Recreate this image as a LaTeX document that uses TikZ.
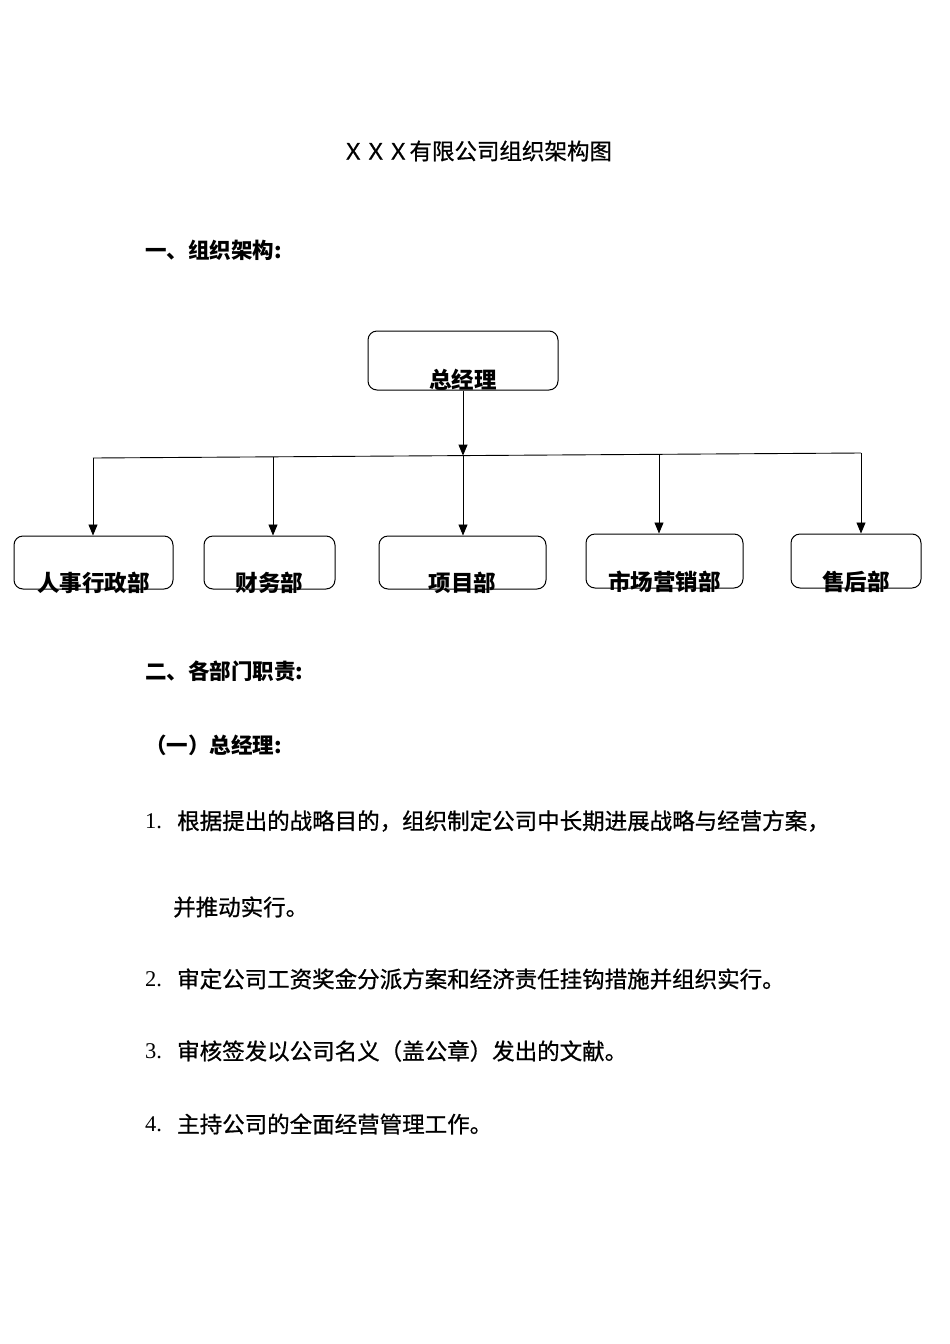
\documentclass[tikz,border=0pt]{standalone}
\usepackage{fontspec}
\setmainfont{Noto Sans CJK SC}
\newfontfamily\medf{Noto Sans CJK SC}[FakeBold=0.8]
\newfontfamily\numf{Liberation Serif}
\usetikzlibrary{arrows.meta,calc}
\begin{document}
\begin{tikzpicture}[x=1pt,y=-1pt,
  txt/.style={inner sep=0pt,anchor=west,font=\fontsize{22.5}{26}\selectfont\medf},
  head/.style={inner sep=0pt,anchor=west,font=\fontsize{21.5}{26}\selectfont\bfseries},
  box/.style={draw,line width=1pt,rounded corners=9pt,inner sep=0pt},
  boxlbl/.style={font=\fontsize{22.5}{26}\selectfont\bfseries,inner sep=0pt},
  arr/.style={line width=0.9pt,-{Triangle[width=9pt,length=11pt]}}]
\useasboundingbox (0,0) rectangle (950,1344);
% title
\node[inner sep=0pt,font=\fontsize{22.5}{26}\selectfont\medf] (title) at (477,151) {ＸＸＸ有限公司组织架构图};
\node[head] (h1) at (145,250) {一、组织架构:};
% boxes
\node[box,minimum width=190pt,minimum height=59pt,label={[boxlbl,anchor=center,yshift=11pt]south:总经理}] (gm) at (463,360.5) {};
\node[box,minimum width=159pt,minimum height=53pt,label={[boxlbl,anchor=center,yshift=7pt]south:人事行政部}] (d1) at (93.5,562.5) {};
\node[box,minimum width=131pt,minimum height=53pt,label={[boxlbl,anchor=center,yshift=7pt]south:财务部}] (d2) at (269.5,562.5) {};
\node[box,minimum width=167pt,minimum height=53pt,label={[boxlbl,anchor=center,yshift=7pt]south:项目部}] (d3) at (462.5,562.5) {};
\node[box,minimum width=157pt,minimum height=54pt,label={[boxlbl,anchor=center,yshift=7pt]south:市场营销部}] (d4) at (664.5,561) {};
\node[box,minimum width=130pt,minimum height=54pt,label={[boxlbl,anchor=center,yshift=7pt]south:售后部}] (d5) at (856,561) {};
% bus line
\coordinate (bl) at (93,458);
\coordinate (br) at (861,453);
\draw[line width=0.9pt] (bl) -- (br);
\coordinate (b1) at (93,458);
\coordinate (b2) at (273,456.8);
\coordinate (b3) at (463,455.6);
\coordinate (b4) at (659,454.3);
\coordinate (b5) at (861,453);
\draw[arr] (gm.south) -- (b3);
\draw[arr] (b1) -- (b1 |- d1.north);
\draw[arr] (b2) -- (b2 |- d2.north);
\draw[arr] (b3) -- (b3 |- d3.north);
\draw[arr] (b4) -- (b4 |- d4.north);
\draw[arr] (b5) -- (b5 |- d5.north);
% section 2
\node[head] (h2) at (145,671) {二、各部门职责:};
\node[head] (h3) at (145,745) {（一）总经理:};
\node[txt] (n1) at (145,821) {\numf 1.};
\node[txt] (t1) at (177,821) {根据提出的战略目的，组织制定公司中长期进展战略与经营方案，};
\node[txt] (t1b) at (173,907) {并推动实行。};
\node[txt] (n2) at (145,979) {\numf 2.};
\node[txt] (t2) at (177,979) {审定公司工资奖金分派方案和经济责任挂钩措施并组织实行。};
\node[txt] (n3) at (145,1051) {\numf 3.};
\node[txt] (t3) at (177,1051) {审核签发以公司名义（盖公章）发出的文献。};
\node[txt] (n4) at (145,1124) {\numf 4.};
\node[txt] (t4) at (177,1124) {主持公司的全面经营管理工作。};
\end{tikzpicture}
\end{document}
